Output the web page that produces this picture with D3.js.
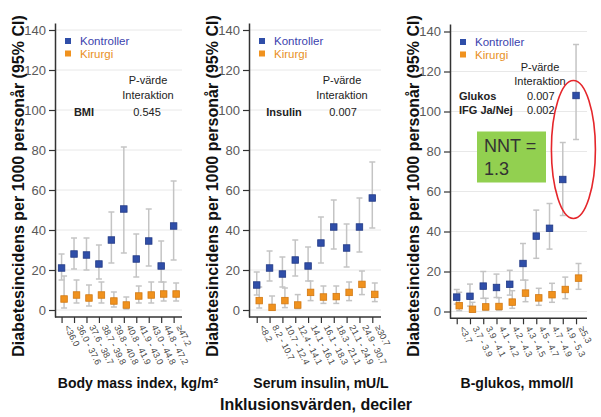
<!DOCTYPE html>
<html><head><meta charset="utf-8">
<script src="https://cdn.jsdelivr.net/npm/d3@7"></script>
<style>body{margin:0;background:#fff}svg{display:block;font-family:"Liberation Sans",Arial,sans-serif}</style>
</head><body><svg id="c" width="601" height="417"></svg>
<script>
// ---- data ----
const yTicks = [0, 20, 40, 60, 80, 100, 120, 140];
const seriesNames = ["Kontroller", "Kirurgi"];

const bmiLabels = ["<36.0", "36.0 - 37.6", "37.6 - 38.7", "38.7 - 39.8", "39.8 - 40.8", "40.8 - 41.9", "41.9 - 43.0", "43.0 - 44.8", "44.8 - 47.2", "≥47.2"];
const bmiKontroller   = [21, 28, 27.5, 23, 35, 50.5, 25.5, 34.5, 22, 42];
const bmiKontrollerLo = [15, 20.5, 20, 15.5, 23.5, 28.5, 16.5, 22, 14, 25];
const bmiKontrollerHi = [28, 36, 36, 32.5, 49, 81.5, 38, 50.5, 34.5, 64.5];
const bmiKirurgi   = [5.5, 7.5, 6, 7.5, 4.5, 2.5, 7, 7.5, 8, 8];
const bmiKirurgiLo = [1, 3.5, 2, 3.5, 1.5, 0.5, 3.5, 3.5, 4.5, 4.5];
const bmiKirurgiHi = [17, 15, 12.5, 14, 9, 6.5, 12, 14, 14, 13.5];

const insLabels = ["<8.2", "8.2 - 10.7", "10.7 - 12.4", "12.4 - 14.1", "14.1 - 16.1", "16.1 - 18.3", "18.3 - 21.1", "21.1 - 24.9", "24.9 - 30.7", "≥30.7"];
const insKontroller   = [12.5, 21, 18, 25, 22, 33.5, 41.5, 31, 41.5, 56];
const insKontrollerLo = [7.5, 14.5, 11.5, 17, 14.5, 23.5, 30.5, 21.5, 29, 41];
const insKontrollerHi = [19, 29.5, 26.5, 35, 31.5, 46.5, 55, 43, 56, 74];
const insKirurgi   = [4.7, 1.3, 4.7, 2.5, 8.8, 6.5, 6.7, 8.8, 12.8, 7.8];
const insKirurgiLo = [1, 0, 1.2, 0.7, 4.7, 3.3, 3.3, 4.7, 7.7, 4.2];
const insKirurgiHi = [11.5, 7, 11, 7.7, 14.5, 12, 12, 14, 19.5, 13.5];

const gluLabels = ["<3.7", "3.7 - 3.9", "3.9 - 4.1", "4.1 - 4.2", "4.2 - 4.3", "4.3 - 4.5", "4.5 - 4.7", "4.7 - 4.9", "4.9 - 5.3", "≥5.3"];
const gluKontroller   = [7.2, 7.6, 12.7, 12, 13.6, 24, 37.7, 41.6, 66, 108];
const gluKontrollerLo = [3.7, 2.7, 6.6, 7, 8.2, 15.7, 26.6, 31.2, 48, 86];
const gluKontrollerHi = [11, 13.7, 20, 18.7, 20.6, 34, 50.7, 54, 84.5, 133.5];
const gluKirurgi   = [2.9, 1.1, 2.3, 2.5, 4.7, 9.2, 6.8, 8.4, 11, 16.7];
const gluKirurgiLo = [0.4, 0, 0.7, 0.7, 1.6, 4.9, 3.1, 4.6, 6.4, 11.1];
const gluKirurgiHi = [9.6, 4.6, 6.6, 6.9, 10.4, 15.7, 11.6, 14.1, 17.2, 24];

const yTitle = "Diabetesincidens per 1000 personår (95% CI)";
const xTitles = ["Body mass index, kg/m²", "Serum insulin, mU/L", "B-glukos, mmol/l"];
const mainTitle = "Inklusionsvärden, deciler";

// ---- drawing ----
const FONT = '"Liberation Sans", Arial, sans-serif';
const BLUE = "#2f4ea8", BLUE_S = "#223a85", ORANGE = "#f0921e", ORANGE_S = "#d27812";
const svg = d3.select("#c");

const panels = [
  { labels: bmiLabels, s: [[bmiKontroller, bmiKontrollerLo, bmiKontrollerHi], [bmiKirurgi, bmiKirurgiLo, bmiKirurgiHi]],
    left: 55, right: 182, top: 23, bottom: 317, yDom: [-3.5, 143.5], pad: 0.6, align: 0.44, xTitle: xTitles[0], xTitleX: 138 },
  { labels: insLabels, s: [[insKontroller, insKontrollerLo, insKontrollerHi], [insKirurgi, insKirurgiLo, insKirurgiHi]],
    left: 249, right: 381, top: 23, bottom: 317, yDom: [-3.5, 143.5], pad: 0.64, align: 0.47, xTitle: xTitles[1], xTitleX: 321 },
  { labels: gluLabels, s: [[gluKontroller, gluKontrollerLo, gluKontrollerHi], [gluKirurgi, gluKirurgiLo, gluKirurgiHi]],
    left: 450, right: 587, top: 24, bottom: 318.3, yDom: [-3.4, 143.75], pad: 0.667, align: 0.38, xTitle: xTitles[2], xTitleX: 517 }
];

const scales = [];
panels.forEach((p, pi) => {
  const g = svg.append("g");
  const x = d3.scalePoint().domain(p.labels).range([p.left, p.right]).padding(p.pad).align(p.align);
  const y = d3.scaleLinear().domain(p.yDom).range([p.bottom, p.top]);
  scales.push({x, y});

  g.selectAll("line.grid").data(yTicks).join("line").attr("class", "grid")
    .attr("x1", p.left).attr("x2", p.right).attr("y1", d => y(d)).attr("y2", d => y(d))
    .attr("stroke", "#e8e8e8").attr("stroke-width", 1);

  const ya = g.append("g").attr("transform", `translate(${p.left},0)`)
    .call(d3.axisLeft(y).tickValues(yTicks).tickSize(6).tickSizeOuter(0).tickPadding(3));
  ya.attr("font-family", FONT).attr("font-size", 13);
  ya.select(".domain").attr("stroke", "#333").attr("stroke-width", 1.5);
  ya.selectAll(".tick line").attr("stroke", "#333").attr("stroke-width", 1.2);
  ya.selectAll(".tick text").attr("fill", "#595959");

  const xa = g.append("g").attr("transform", `translate(0,${p.bottom})`)
    .call(d3.axisBottom(x).tickSize(6).tickSizeOuter(0));
  xa.attr("font-family", FONT).attr("font-size", 9);
  xa.select(".domain").attr("stroke", "#333").attr("stroke-width", 1.5)
    .attr("d", `M${p.left},0H${p.right}`);
  xa.selectAll(".tick line").attr("stroke", "#333").attr("stroke-width", 1.2);
  xa.selectAll(".tick text").attr("x", 0).attr("y", 0).attr("dy", 0)
    .attr("text-anchor", "start").attr("fill", "#444")
    .attr("transform", "translate(2,10) rotate(63)");

  const offs = [0, 2.5];
  const cols = [[BLUE, BLUE_S], [ORANGE, ORANGE_S]];
  // error bars
  p.s.forEach((ser, si) => {
    const [v, lo, hi] = ser;
    const eb = g.append("g").attr("stroke", "#c4c4c4").attr("stroke-width", 1.5);
    p.labels.forEach((lab, i) => {
      const cx = x(lab) + offs[si];
      eb.append("line").attr("x1", cx).attr("x2", cx).attr("y1", y(lo[i])).attr("y2", y(hi[i]));
      eb.append("line").attr("x1", cx - 3).attr("x2", cx + 3).attr("y1", y(lo[i])).attr("y2", y(lo[i]));
      eb.append("line").attr("x1", cx - 3).attr("x2", cx + 3).attr("y1", y(hi[i])).attr("y2", y(hi[i]));
    });
  });
  // markers
  p.s.forEach((ser, si) => {
    const [v] = ser;
    g.append("g").selectAll("rect").data(p.labels).join("rect")
      .attr("x", d => x(d) + offs[si] - 3.25).attr("y", (d, i) => y(v[i]) - 3.25)
      .attr("width", 6.5).attr("height", 6.5)
      .attr("fill", cols[si][0]).attr("stroke", cols[si][1]).attr("stroke-width", 0.8);
  });

  // legend
  const lg = g.append("g").attr("font-family", FONT).attr("font-size", 11.5);
  const ly = pi === 2 ? 39 : 38;
  seriesNames.forEach((n, si) => {
    lg.append("rect").attr("x", p.left + 10).attr("y", ly + si * 12.5).attr("width", 6).attr("height", 6)
      .attr("fill", cols[si][0]);
    lg.append("text").attr("x", p.left + 25).attr("y", ly + 7 + si * 12.5)
      .attr("fill", si === 0 ? "#3b3fae" : "#e8901e").text(n);
  });

  // y title
  g.append("text").attr("transform", `translate(${p.left - 31},186) rotate(-90)`)
    .attr("text-anchor", "middle").attr("font-family", FONT).attr("font-size", 16)
    .attr("font-weight", "bold").attr("fill", "#111").text(yTitle);
  // x title
  g.append("text").attr("x", p.xTitleX).attr("y", 388).attr("text-anchor", "middle")
    .attr("font-family", FONT).attr("font-size", 14).attr("font-weight", "bold")
    .attr("fill", "#111").text(p.xTitle);
});

svg.append("text").attr("x", 316).attr("y", 410).attr("text-anchor", "middle")
  .attr("font-family", FONT).attr("font-size", 16).attr("font-weight", "bold")
  .attr("fill", "#111").text(mainTitle);

// annotations
const ann = svg.append("g").attr("font-family", FONT).attr("font-size", 11).attr("fill", "#222");
function t(xp, yp, s, anchor, bold) {
  ann.append("text").attr("x", xp).attr("y", yp).attr("text-anchor", anchor || "middle")
    .attr("font-weight", bold ? "bold" : "normal").text(s);
}
t(148, 84, "P-värde"); t(148, 99, "Interaktion"); t(84, 116, "BMI", "middle", true); t(147, 116, "0.545");
t(342, 84, "P-värde"); t(342, 98.5, "Interaktion"); t(284, 116, "Insulin", "middle", true); t(343, 116, "0.007");
t(540, 71, "P-värde"); t(540, 85, "Interaktion");
t(459, 99.5, "Glukos", "start", true); t(527, 99.5, "0.007", "start");
t(459, 113.5, "IFG Ja/Nej", "start", true); t(527, 113.5, "0.002", "start");

// NNT box and ellipse (panel 3)
const s3 = scales[2];
const box = svg.append("g");
box.append("rect").attr("x", 477).attr("y", s3.y(90)).attr("width", 69).attr("height", s3.y(64.5) - s3.y(90))
  .attr("fill", "#92d050");
box.append("text").attr("x", 484).attr("y", 151.5).attr("font-family", FONT).attr("font-size", 18)
  .attr("fill", "#333").text("NNT =");
box.append("text").attr("x", 484).attr("y", 175).attr("font-family", FONT).attr("font-size", 18)
  .attr("fill", "#333").text("1.3");
const ex = (s3.x(gluLabels[8]) + s3.x(gluLabels[9])) / 2 + 4;
svg.append("ellipse").attr("cx", ex).attr("cy", s3.y(81)).attr("rx", 22).attr("ry", 69)
  .attr("fill", "none").attr("stroke", "#e5262b").attr("stroke-width", 1.6);
</script></body></html>
